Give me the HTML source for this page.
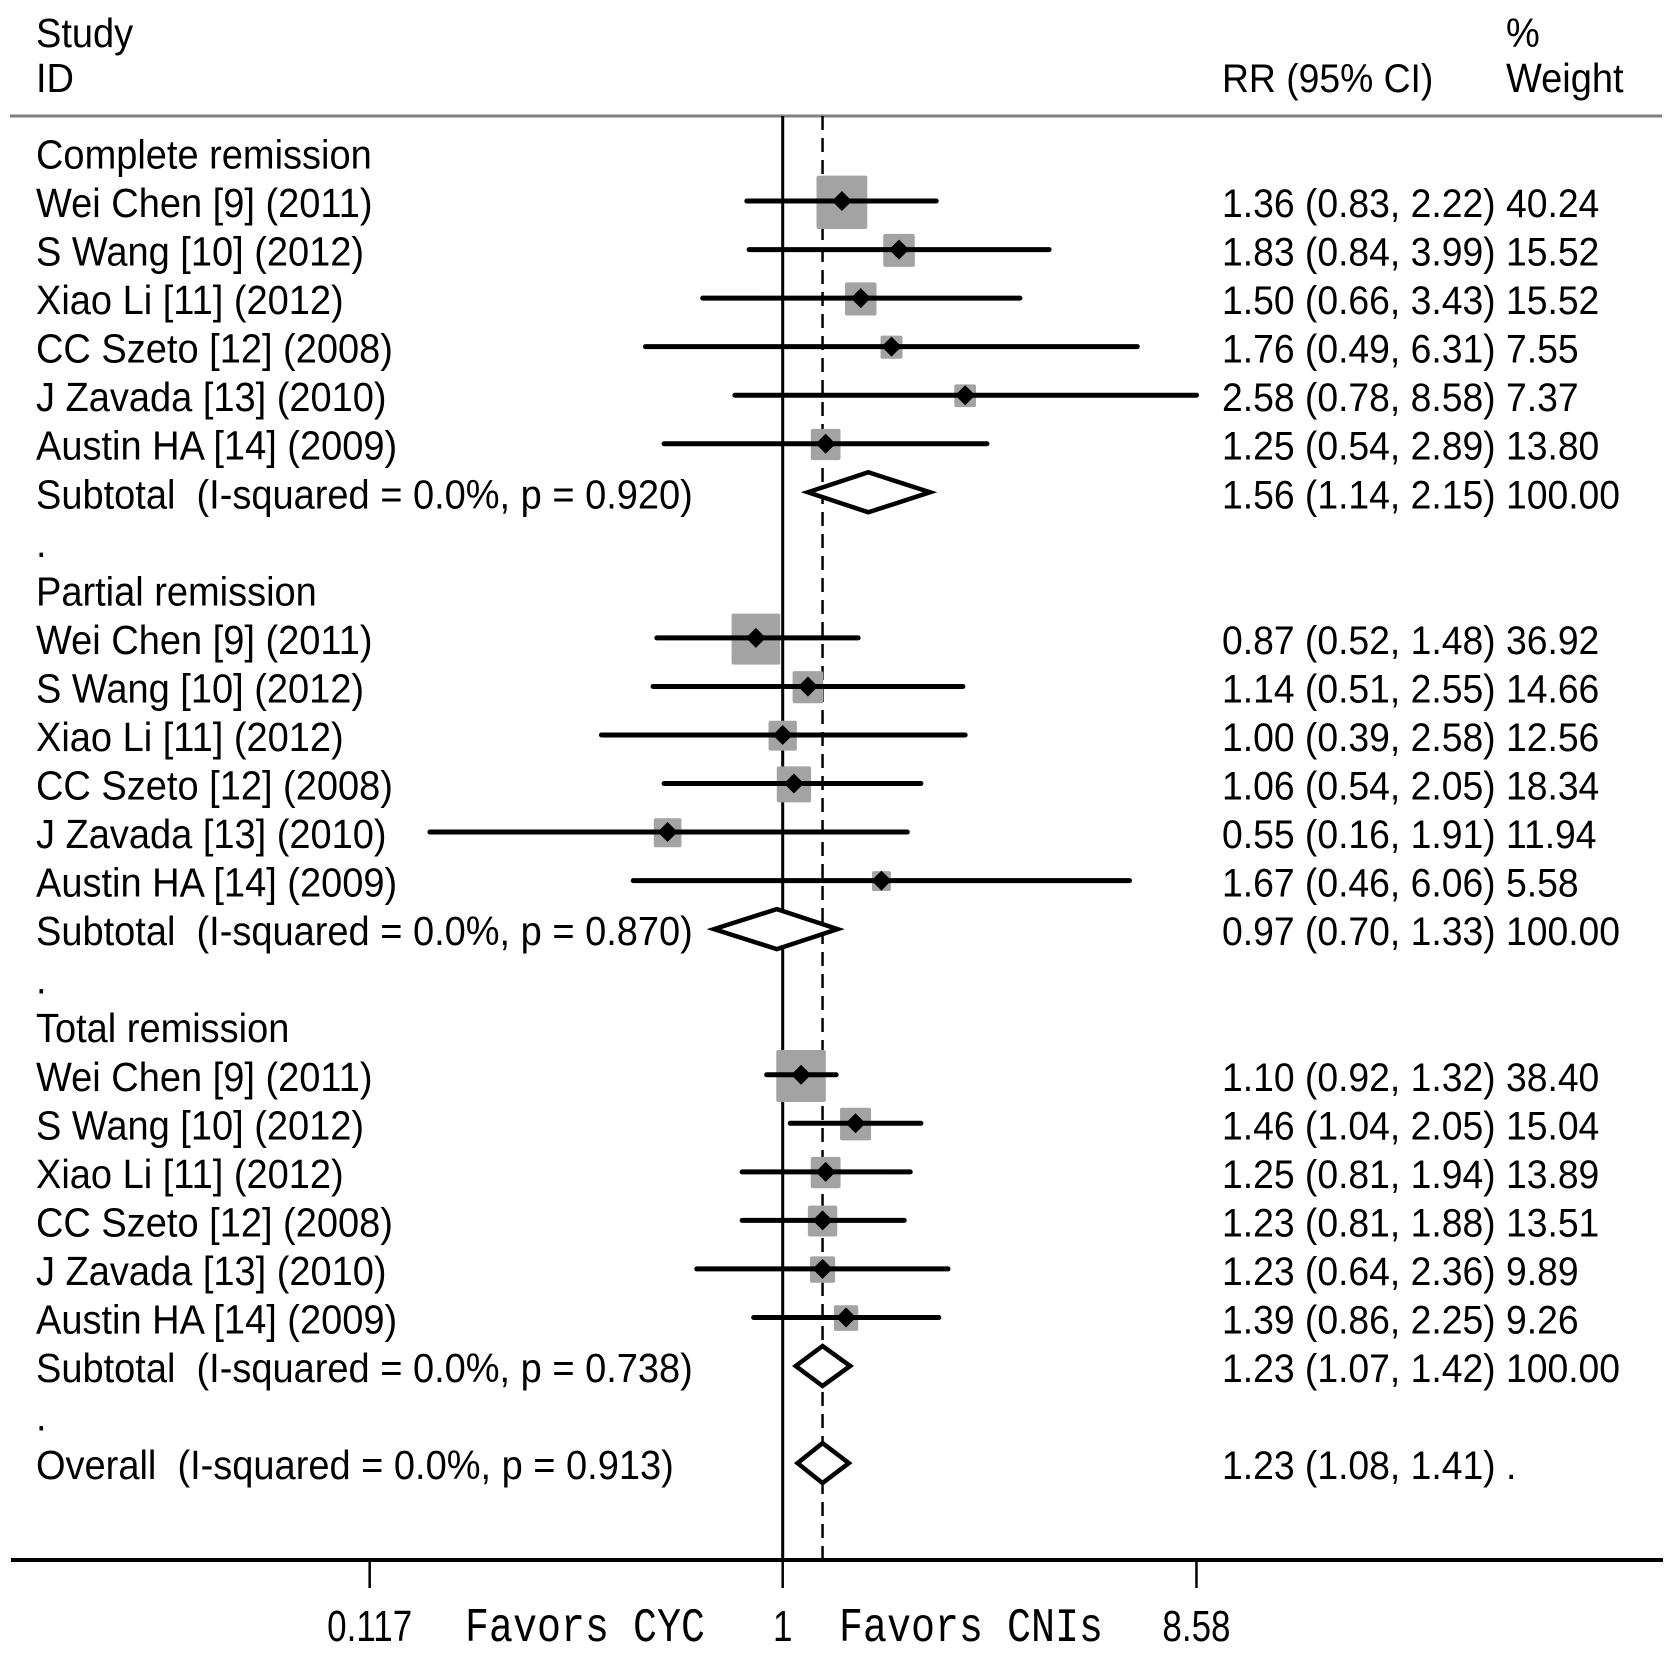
<!DOCTYPE html>
<html><head><meta charset="utf-8"><style>
html,body{margin:0;padding:0;background:#fff;}
svg{display:block;}
text{fill:#000;white-space:pre;}
</style></head><body>
<svg id="chart" width="1677" height="1655" viewBox="0 0 1677 1655" xmlns="http://www.w3.org/2000/svg" xml:space="preserve"></svg>
<script>
// ---- data ----
const groupNames = ["Complete remission","Partial remission","Total remission"];
const studyNames = ["Wei Chen [9] (2011)","S Wang [10] (2012)","Xiao Li [11] (2012)","CC Szeto [12] (2008)","J Zavada [13] (2010)","Austin HA [14] (2009)"];
const rrComplete = [1.36,1.83,1.50,1.76,2.58,1.25];
const loComplete = [0.83,0.84,0.66,0.49,0.78,0.54];
const hiComplete = [2.22,3.99,3.43,6.31,8.58,2.89];
const wComplete = [40.24,15.52,15.52,7.55,7.37,13.80];
const rrPartial = [0.87,1.14,1.00,1.06,0.55,1.67];
const loPartial = [0.52,0.51,0.39,0.54,0.16,0.46];
const hiPartial = [1.48,2.55,2.58,2.05,1.91,6.06];
const wPartial = [36.92,14.66,12.56,18.34,11.94,5.58];
const rrTotal = [1.10,1.46,1.25,1.23,1.23,1.39];
const loTotal = [0.92,1.04,0.81,0.81,0.64,0.86];
const hiTotal = [1.32,2.05,1.94,1.88,2.36,2.25];
const wTotal = [38.40,15.04,13.89,13.51,9.89,9.26];
const subRR = [1.56,0.97,1.23];
const subLo = [1.14,0.70,1.07];
const subHi = [2.15,1.33,1.42];
const subLabels = ["Subtotal  (I-squared = 0.0%, p = 0.920)","Subtotal  (I-squared = 0.0%, p = 0.870)","Subtotal  (I-squared = 0.0%, p = 0.738)"];
const overallRR = 1.23, overallLo = 1.08, overallHi = 1.41;
const overallLabel = "Overall  (I-squared = 0.0%, p = 0.913)";
const tickValues = [0.117, 1, 8.58];
const tickLabels = ["0.117","1","8.58"];

const groups = [
  {rr:rrComplete,lo:loComplete,hi:hiComplete,w:wComplete},
  {rr:rrPartial,lo:loPartial,hi:hiPartial,w:wPartial},
  {rr:rrTotal,lo:loTotal,hi:hiTotal,w:wTotal}
];

// ---- scales ----
const X1 = 782.7, PX_PER_LN = 192.5;
function xs(v){ return X1 + Math.log(v)*PX_PER_LN; }
function ys(k){ return 152.5 + 48.54*k; }
const NS = "http://www.w3.org/2000/svg";
const svg = document.getElementById('chart');
function mk(tag, attrs, parent){
  const e = document.createElementNS(NS, tag);
  for (const k in attrs) e.setAttribute(k, attrs[k]);
  (parent||svg).appendChild(e); return e;
}
const SANS = 'font-family:"Liberation Sans",sans-serif;';
const MONO = 'font-family:"Liberation Mono",monospace;';
function txt(s, x, y, sy, size, anchor, fam){
  const t = mk('text', {transform:`translate(${x},${y}) scale(1,${sy})`,style:(fam||SANS)+`font-size:${size||38}px;`,'text-anchor':anchor||'start'});
  t.textContent = s; return t;
}
function f2(v){ return v.toFixed(2); }
function ciText(r,l,h){ return `${f2(r)} (${f2(l)}, ${f2(h)})`; }

const RRX = 1222, WX = 1506, RRS = 37.3;
let t;
t = txt("Study",36,47,1.07);


t = txt("ID",36,92,1.07);


t = txt("RR (95% CI)",RRX,92,1.07,RRS);


t = txt("%",WX,47,1.07);


t = txt("Weight",WX,92,1.07);


let ln = mk('line',{x1:10,x2:1662,y1:116,y2:116,stroke:'#808080','stroke-width':3});



ln = mk('line',{x1:X1,x2:X1,y1:116,y2:1560,stroke:'#000','stroke-width':3});


ln = mk('line',{x1:xs(overallRR),x2:xs(overallRR),y1:116,y2:1560,stroke:'#000','stroke-width':2.5,'stroke-dasharray':'14,8'});



const BASE = 16;
function diamond(r,l,h,y,name){
  const d = mk('polygon',{points:`${xs(l)},${y} ${xs(r)},${y-20} ${xs(h)},${y} ${xs(r)},${y+20}`,fill:'#fff',stroke:'#000','stroke-width':4.5,'stroke-linejoin':'miter'});
  
  
}
groups.forEach((g,gi)=>{
  const k0 = gi*9;
  t = txt(groupNames[gi],36,ys(k0)+BASE,1.07);
  
  
  for (let i=0;i<studyNames.length;i++){
    const y = ys(k0+1+i);
    t = txt(studyNames[i],36,y+BASE,1.07);
    
    
    const side = 8*Math.sqrt(g.w[i]);
    const b = mk('rect',{x:xs(g.rr[i])-side/2,y:y-side/2,width:side,height:side*1.05,fill:'#a3a3a3',rx:2});
    
    
    const c = mk('line',{x1:xs(g.lo[i]),x2:xs(g.hi[i]),y1:y,y2:y,stroke:'#000','stroke-width':5,'stroke-linecap':'round'});
    
    
    const px = xs(g.rr[i]);
    const m = mk('polygon',{points:`${px-10},${y} ${px},${y-10} ${px+10},${y} ${px},${y+10}`,fill:'#000'});
    
    
    t = txt(ciText(g.rr[i],g.lo[i],g.hi[i]),RRX,y+BASE,1.07,RRS);
    
    
    t = txt(g.w[i].toFixed(2),WX,y+BASE,1.07,RRS);
    
    
  }
  const ys7 = ys(k0+7);
  t = txt(subLabels[gi],36,ys7+BASE,1.07);
  
  
  diamond(subRR[gi],subLo[gi],subHi[gi],ys7,'subtotal-diamond');
  t = txt(ciText(subRR[gi],subLo[gi],subHi[gi]),RRX,ys7+BASE,1.07,RRS);
  
  
  t = txt("100.00",WX,ys7+BASE,1.07,RRS);
  
  
  t = txt(".",36,ys(k0+8)+BASE,1.07);
  
  
});
const yo = ys(27);
t = txt(overallLabel,36,yo+BASE,1.07);


diamond(overallRR,overallLo,overallHi,yo,'overall-diamond');
t = txt(ciText(overallRR,overallLo,overallHi)+" .",RRX,yo+BASE,1.07,RRS);



ln = mk('line',{x1:11,x2:1663,y1:1560,y2:1560,stroke:'#000','stroke-width':4});


tickValues.forEach((v,i)=>{
  const tk = mk('line',{x1:xs(v),x2:xs(v),y1:1560,y2:1588,stroke:'#000','stroke-width':2.5});
  
  
  const tl = txt(tickLabels[i],xs(v),1641,1.25,35,'middle');
  
  
});
t = txt("Favors CYC",465,1641,1.2,40,'start',MONO);


t = txt("Favors CNIs",839,1641,1.2,40,'start',MONO);


</script>
</body></html>
